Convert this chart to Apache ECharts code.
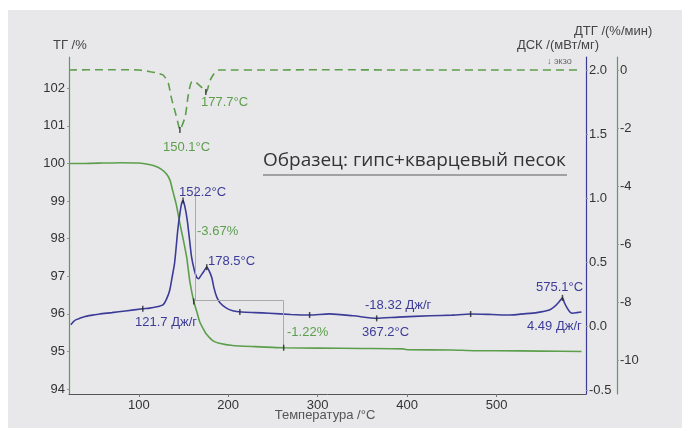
<!DOCTYPE html>
<html>
<head>
<meta charset="utf-8">
<script src="https://cdn.jsdelivr.net/npm/echarts@6/dist/echarts.min.js"></script>
<style>
html,body{margin:0;padding:0;background:#fff;}
#chart{width:682px;height:428px;}
</style>
</head>
<body>
<div id="chart"></div>
<script>
// ---- Data (temperature °C, value) ----
var tgData = [[22,100.0],[40,100.0],[60,100.01],[80,100.02],[100,100.01],[110,99.98],[118,99.93],[125,99.85],[131,99.72],[135,99.55],[138,99.27],[142,98.9],[146,98.4],[150,97.95],[153.6,97.5],[157,96.88],[161.5,96.33],[165,96.05],[168,95.8],[171.5,95.63],[176,95.45],[182.7,95.29],[190,95.22],[205,95.16],[230,95.13],[261,95.1],[300,95.09],[350,95.08],[395,95.07],[400,95.05],[450,95.04],[477,95.02],[500,95.02],[550,95.01],[595,95.0]];
var dscData = [[24,0.01],[27,0.035],[30,0.05],[34,0.06],[40,0.075],[48,0.085],[56,0.094],[70,0.105],[85,0.118],[104.5,0.135],[112,0.14],[120,0.15],[127,0.165],[131,0.21],[134.6,0.28],[137,0.37],[140,0.49],[142,0.63],[143.6,0.75],[146,0.88],[148,0.96],[149.5,0.98],[151,0.95],[153,0.88],[154.7,0.8],[157,0.66],[159,0.54],[162,0.44],[164.8,0.38],[167,0.37],[170,0.4],[173,0.43],[176,0.46],[178,0.44],[181.6,0.38],[184,0.3],[187,0.23],[191,0.18],[198,0.14],[205,0.12],[215,0.11],[230,0.105],[246,0.1],[270,0.09],[291,0.086],[313,0.095],[340,0.08],[366,0.06],[390,0.07],[426,0.08],[450,0.085],[471,0.094],[495,0.09],[515,0.086],[530,0.095],[545,0.105],[559,0.125],[566,0.16],[570,0.19],[573.7,0.22],[576,0.18],[579,0.14],[582,0.11],[585,0.1],[590,0.105],[595,0.11]];
var dtgData = [[22,0],[60,0.01],[100,0],[113,-0.06],[120,-0.1],[127,-0.17],[130,-0.28],[133,-0.45],[137,-1.03],[141,-1.48],[144,-1.85],[146,-2.07],[148,-1.95],[152,-1.6],[155,-0.93],[157,-0.6],[159,-0.41],[162,-0.38],[165,-0.45],[171,-0.62],[175,-0.76],[177,-0.65],[180,-0.34],[185.5,-0.07],[190,0],[250,0],[300,0.01],[400,0],[500,0],[595,0]];

// evaluation markers on the curves
var dscMarkers = [[104.5,0.135],[149.5,0.98],[176,0.46],[213,0.11],[291,0.086],[366,0.06],[471,0.094],[573.7,0.22]];
var tgMarkers = [[161.5,96.33],[262,95.1]];
var dtgMarkers = [[146,-2.07],[175,-0.76]];

// TG step construction lines
var tgStepLines = [
  [[162.6,99.4],[162.6,96.35]],
  [[162.6,96.35],[262,96.35]],
  [[262,96.35],[262,95.1]]
];

// tick labels
var xTicks = [100,200,300,400,500];
var tgTicks = [94,95,96,97,98,99,100,101,102];
var dscTicks = [-0.5,0,0.5,1,1.5,2];
var dtgTicks = [-10,-8,-6,-4,-2,0];

var GREEN = '#5c9e4c';
var BLUE = '#3c3c98';
var FONT = 'Liberation Sans, Arial, sans-serif';

var chart = echarts.init(document.getElementById('chart'));

function txt(t, x, y, color, size, align, family){
  return {type:'text', silent:true, z:100,
    style:{text:t, x:x, y:y, fill:color, fontSize:size||13, fontFamily:family||FONT,
      align:align||'left', verticalAlign:'middle'}};
}

var option = {
  backgroundColor:'#ffffff',
  animation:false,
  grid:{left:69, right:96, top:57, bottom:34, containLabel:false, outerBoundsMode:'none'},
  xAxis:{
    type:'value', min:22, max:600,
    axisLine:{show:true, onZero:false, lineStyle:{color:'#555', width:1}},
    axisTick:{show:true, customValues:xTicks, length:3, lineStyle:{color:'#777'}},
    axisLabel:{customValues:xTicks, color:'#333', fontSize:13, fontFamily:FONT, margin:5},
    splitLine:{show:false}
  },
  yAxis:[
    {type:'value', position:'left', min:93.87, max:102.83,
      axisLine:{show:true, onZero:false, lineStyle:{color:GREEN, width:1.2}},
      axisTick:{show:true, customValues:tgTicks, length:2, lineStyle:{color:'#999'}},
      axisLabel:{customValues:tgTicks, color:'#333', fontSize:13, fontFamily:FONT, margin:4},
      splitLine:{show:false}},
    {type:'value', position:'right', min:-0.531, max:2.102,
      axisLine:{show:true, onZero:false, lineStyle:{color:BLUE, width:1.2}},
      axisTick:{show:true, customValues:dscTicks, length:2, lineStyle:{color:'#999'}},
      axisLabel:{customValues:dscTicks, color:'#333', fontSize:13, fontFamily:FONT, margin:3,
        formatter:function(v){return v.toFixed(1);}},
      splitLine:{show:false}},
    {type:'value', position:'right', offset:31, min:-11.17, max:0.448,
      axisLine:{show:true, onZero:false, lineStyle:{color:GREEN, width:1.2}},
      axisTick:{show:true, customValues:dtgTicks, length:2, lineStyle:{color:'#999'}},
      axisLabel:{customValues:dtgTicks, color:'#333', fontSize:13, fontFamily:FONT, margin:3},
      splitLine:{show:false}}
  ],
  series:[
    {type:'line', name:'ТГ', yAxisIndex:0, data:tgData, showSymbol:false, smooth:0.2,
      lineStyle:{color:GREEN, width:1.6}, z:3,
      markLine:{silent:true, symbol:'none', label:{show:false},
        lineStyle:{color:'#aaa', width:1, type:'solid'},
        data:tgStepLines.map(function(s){return [{coord:s[0]},{coord:s[1]}];})}},
    {type:'line', name:'ДСК', yAxisIndex:1, data:dscData, showSymbol:false, smooth:0.2,
      lineStyle:{color:BLUE, width:1.6}, z:4},
    {type:'line', name:'ДТГ', yAxisIndex:2, data:dtgData, showSymbol:false, smooth:0.2,
      lineStyle:{color:GREEN, width:1.6, type:[8,5]}, z:3},
    {type:'scatter', yAxisIndex:1, data:dscMarkers, symbol:'rect', symbolSize:[1.5,6],
      itemStyle:{color:'#222'}, z:6, silent:true},
    {type:'scatter', yAxisIndex:0, data:tgMarkers, symbol:'rect', symbolSize:[1.5,6],
      itemStyle:{color:'#222'}, z:6, silent:true},
    {type:'scatter', yAxisIndex:2, data:dtgMarkers, symbol:'rect', symbolSize:[1.5,6],
      itemStyle:{color:'#222'}, z:6, silent:true}
  ],
  graphic:[
    {type:'rect', z:-10, silent:true, shape:{x:8, y:10, width:674, height:418}, style:{fill:'#e8e8eb'}},
    txt('ТГ /%', 53, 45, '#444', 13),
    txt('ДСК /(мВт/мг)', 599, 45, '#444', 13, 'right'),
    txt('ДТГ /(%/мин)', 574, 31, '#444', 13),
    txt('↓ экзо', 547, 62, '#666', 9),
    txt('Образец: гипс+кварцевый песок', 263, 161, '#333', 19, 'left', 'Open Sans, Noto Sans, sans-serif'),
    {type:'line', silent:true, z:100, shape:{x1:263, y1:175, x2:567, y2:175}, style:{stroke:'#8a8a8a', lineWidth:1.5}},
    txt('177.7°C', 201, 102, GREEN),
    txt('150.1°C', 163, 147, GREEN),
    txt('152.2°C', 179, 192, BLUE),
    txt('-3.67%', 197, 231, GREEN),
    txt('178.5°C', 208, 261, BLUE),
    txt('121.7 Дж/г', 135, 322, BLUE),
    txt('-1.22%', 287, 332, GREEN),
    txt('-18.32 Дж/г', 365, 305, BLUE),
    txt('367.2°C', 362, 332, BLUE),
    txt('575.1°C', 536, 287, BLUE),
    txt('4.49 Дж/г', 527, 326, BLUE),
    txt('Температура /°C', 325, 415, '#555', 13, 'center')
  ]
};
chart.setOption(option);
</script>
</body>
</html>
